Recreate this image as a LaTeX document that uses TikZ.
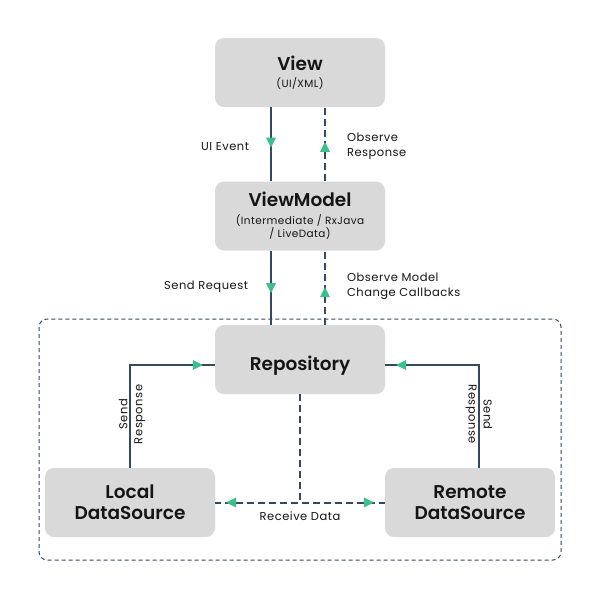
\documentclass[tikz,border=0pt]{standalone}
\usepackage{fontspec}
\setmainfont{Poppins}
\IfFontExistsTF{Poppins SemiBold}{\newfontfamily\titlefont{Poppins SemiBold}}{\newfontfamily\titlefont{Poppins}[FakeBold=0]\def\titlefont{\bfseries}}
\usepackage{tikz}
\usetikzlibrary{arrows.meta,decorations.markings}
\definecolor{navy}{HTML}{34495E}
\definecolor{boxgray}{HTML}{D9D9D9}
\definecolor{tipgreen}{HTML}{3CBF8A}
\definecolor{ink}{HTML}{151515}

\tikzset{
  layer/.style={fill=boxgray,draw=none,rounded corners=9pt,minimum width=170pt,minimum height=69pt,
    inner sep=0pt,align=center,text=ink,font=\fontsize{18.5}{21}\selectfont\titlefont},
  sublayer/.style={layer,font=\fontsize{10.5}{11}\selectfont\addfontfeature{LetterSpace=4}},
  flow/.style={draw=navy,line width=2pt},
  callback/.style={flow,dash pattern=on 7pt off 4pt},
  tipat/.style={postaction={decorate},decoration={markings,
    mark=at position #1 with {\arrow{Triangle[length=10pt,width=10pt,line width=0pt,color=tipgreen,fill=tipgreen]}}}},
  lbl/.style={inner sep=0pt,align=left,text=ink,font=\fontsize{11.5}{15}\selectfont\addfontfeature{LetterSpace=4.5}},
}

\begin{document}
\begin{tikzpicture}[x=1pt,y=-1pt]
  \useasboundingbox (0,0) rectangle (600,600);
  \fill[white] (0,0) rectangle (600,600);
  \draw[navy,line width=1pt,dash pattern=on 4pt off 3pt,rounded corners=8pt] (39,319) rectangle (561,560);

  \node[sublayer] (view) at (300,72.5) {{\fontsize{18.5}{18}\selectfont\titlefont View}\\[6pt](UI/XML)};
  \node[sublayer] (vm) at (300,216) {{\fontsize{18.5}{18}\selectfont\titlefont ViewModel}\\[7pt](Intermediate / RxJava\\/ LiveData)};
  \node[layer,text height=21pt,text depth=0pt] (repo) at (300,359.5) {Repository};
  \node[layer] (local) at (130,502.5) {Local\\DataSource};
  \node[layer] (remote) at (470,502.5) {Remote\\DataSource};

  \draw[flow,tipat=0.547] ([xshift=-29pt]view.south) -- ([xshift=-29pt]vm.north)
    node[lbl,midway,left=21pt,yshift=-2pt] {UI Event};
  \draw[callback,tipat=0.533] ([xshift=25pt]vm.north) -- ([xshift=25pt]view.south)
    node[lbl,midway,right=21pt,yshift=-2pt] {Observe\\Response};
  \draw[flow,tipat=0.573] ([xshift=-29pt]vm.south) -- ([xshift=-29pt]repo.north)
    node[lbl,midway,left=22pt,yshift=1pt] {Send Request};
  \draw[callback,tipat=0.507] ([xshift=25pt]repo.north) -- ([xshift=25pt]vm.south)
    node[lbl,midway,right=21pt,yshift=1pt] {Observe Model\\Change Callbacks};

  \draw[flow,tipat=-12pt] (local.north) |- ([yshift=-5.5pt]repo.west)
    node[lbl,pos=0.25,xshift=2pt,yshift=2pt,rotate=90,align=center] {Send\\Response};
  \draw[flow,tipat=-11pt] ([xshift=9pt]remote.north) |- ([yshift=-5.5pt]repo.east)
    node[lbl,pos=0.25,yshift=2pt,rotate=-90,align=center] {Send\\Response};

  \draw[callback,tipat=-11pt] (repo.south) |- (local.east)
    node[lbl,pos=0.5,below=8pt] {Receive Data};
  \draw[callback,tipat=-11pt] (repo.south) |- (remote.west);
\end{tikzpicture}
\end{document}
